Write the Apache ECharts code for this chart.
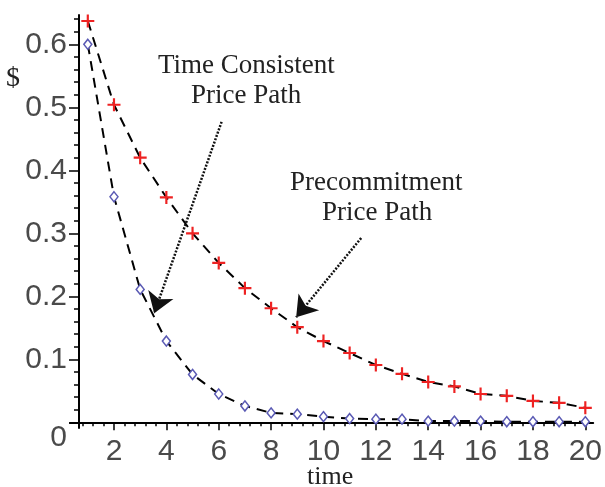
<!DOCTYPE html>
<html>
<head>
<meta charset="utf-8">
<style>
html, body { margin: 0; padding: 0; background: #fff; }
#main { width: 605px; height: 487px; }
</style>
</head>
<body>
<div id="main"></div>
<script src="https://cdn.jsdelivr.net/npm/echarts@6/dist/echarts.min.js"></script>
<script>
// data
var times = [1, 2, 3, 4, 5, 6, 7, 8, 9, 10, 11, 12, 13, 14, 15, 16, 17, 18, 19, 20];
var precommit = [0.637, 0.504, 0.420, 0.357, 0.300, 0.253, 0.213, 0.181, 0.151, 0.129,
                 0.110, 0.091, 0.077, 0.064, 0.057, 0.045, 0.042, 0.034, 0.031, 0.023];
var timeConsistent = [0.600, 0.358, 0.211, 0.129, 0.076, 0.045, 0.026, 0.015, 0.013, 0.009,
                      0.006, 0.005, 0.005, 0.002, 0.002, 0.002, 0.001, 0.001, 0.001, 0.001];
var xLabels = [2, 4, 6, 8, 10, 12, 14, 16, 18, 20];
var yLabels = [0, 0.1, 0.2, 0.3, 0.4, 0.5, 0.6];
// arrows: [from, tip] in data coords
var arrows = [
    [[6.11, 0.477], [3.535, 0.173]],
    [[11.44, 0.2925], [8.957, 0.1667]]
];

var xMinor = [];
for (var i = 2; i <= 50; i++) xMinor.push(+(i * 0.4).toFixed(1));
var yMinor = [];
for (var j = 1; j <= 32; j++) yMinor.push(+(j * 0.02).toFixed(2));

function pairs(ys) {
    return times.map(function (t, k) { return [t, ys[k]]; });
}

var tickFont = { fontFamily: 'Liberation Sans', fontSize: 30, color: '#4a4a4a' };

var myChart = echarts.init(document.getElementById('main'));
var option = {
    animation: false,
    grid: { left: 70, right: 7, top: 15, bottom: 59 },
    xAxis: [
        {
            type: 'value', min: 0.32, max: 20.3, position: 'bottom',
            splitLine: { show: false },
            axisLine: { onZero: true, lineStyle: { color: '#000', width: 2 } },
            axisTick: { customValues: xLabels, length: 8, lineStyle: { color: '#000', width: 1.5 } },
            axisLabel: Object.assign({ customValues: xLabels, margin: 9 }, tickFont)
        },
        {
            type: 'value', min: 0.32, max: 20.3, position: 'bottom',
            splitLine: { show: false },
            axisLine: { show: false, onZero: true },
            axisTick: { customValues: xMinor, length: 4, lineStyle: { color: '#000', width: 1.5 } },
            axisLabel: { show: false }
        }
    ],
    yAxis: [
        {
            type: 'value', min: -0.009, max: 0.6465, position: 'left', offset: -9,
            splitLine: { show: false },
            axisLine: { show: true, onZero: false, lineStyle: { color: '#000', width: 2 } },
            axisTick: { customValues: yLabels, length: 10, lineStyle: { color: '#000', width: 1.5 } },
            axisLabel: Object.assign({
                customValues: yLabels, margin: 12,
                formatter: function (v) { return v === 0 ? '{z|0}' : String(v); },
                rich: { z: { fontFamily: 'Liberation Sans', fontSize: 30, color: '#4a4a4a', padding: [30, 0, 0, 0] } }
            }, tickFont)
        },
        {
            type: 'value', min: -0.009, max: 0.6465, position: 'left', offset: -9,
            splitLine: { show: false },
            axisLine: { show: false, onZero: false },
            axisTick: { customValues: yMinor, length: 5, lineStyle: { color: '#000', width: 1.5 } },
            axisLabel: { show: false }
        }
    ],
    graphic: [
        { type: 'text', left: 6, top: 65, style: { text: '$', font: '28px "Liberation Serif"', fill: '#222' } },
        { type: 'text', left: 307, top: 464, style: { text: 'time', font: '26px "Liberation Serif"', fill: '#222' } },
        { type: 'text', left: 158, top: 52, style: { text: 'Time Consistent', font: '27px "Liberation Serif"', fill: '#222' } },
        { type: 'text', left: 191, top: 82, style: { text: 'Price Path', font: '27px "Liberation Serif"', fill: '#222' } },
        { type: 'text', left: 290, top: 169, style: { text: 'Precommitment', font: '27px "Liberation Serif"', fill: '#222' } },
        { type: 'text', left: 322, top: 199, style: { text: 'Price Path', font: '27px "Liberation Serif"', fill: '#222' } }
    ],
    series: [
        {
            name: 'Precommitment',
            type: 'line',
            data: pairs(precommit),
            symbol: 'path://M5,0H7V5H12V7H7V12H5V7H0V5H5Z',
            symbolSize: 13,
            itemStyle: { color: '#ee2222' },
            lineStyle: { color: '#000', width: 2, type: [10, 7] },
            markLine: {
                silent: true,
                symbol: ['none', 'arrow'],
                symbolSize: 20,
                label: { show: false },
                lineStyle: { color: '#111', width: 2.5, type: [2, 1.5] },
                data: arrows.map(function (a) {
                    return [{ coord: a[0] }, { coord: a[1] }];
                })
            }
        },
        {
            name: 'Time Consistent',
            type: 'line',
            data: pairs(timeConsistent),
            symbol: 'diamond',
            symbolSize: [8, 10],
            itemStyle: { color: '#fff', borderColor: '#5a5ab4', borderWidth: 1.5 },
            lineStyle: { color: '#000', width: 2, type: [10, 7] }
        }
    ]
};
myChart.setOption(option);
</script>
</body>
</html>
